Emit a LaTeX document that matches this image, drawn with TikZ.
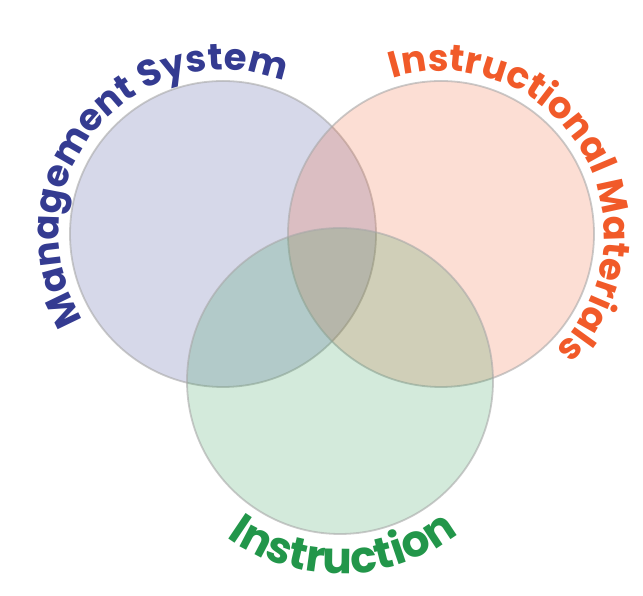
\documentclass[tikz,border=0pt]{standalone}
\usepackage{fontspec}
\setmainfont{Poppins}
\usetikzlibrary{decorations.text}
\definecolor{mgmtblue}{HTML}{343B91}
\definecolor{matorange}{HTML}{F15A29}
\definecolor{instgreen}{HTML}{22964A}
\definecolor{rimgray}{HTML}{A8A8A8}
\newcommand{\vennfont}{\fontsize{37}{37}\selectfont\bfseries}
\newcommand{\vennbigfont}{\fontsize{44}{44}\selectfont\bfseries}
\tikzset{
  venncircle/.style={circle, draw=rimgray, line width=1.8pt, draw opacity=0.6, fill opacity=0.2, minimum size=306pt, inner sep=0pt},
  arclabel/.style={decorate, decoration={text along path, text align=center, text={#1}}}
}

\begin{document}
\begin{tikzpicture}[x=1pt, y=1pt]
  \useasboundingbox (0,0) rectangle (643,596);
  % the three sets
  \node[venncircle, fill=mgmtblue] (mgmt) at (223,362) {};
  \node[venncircle, fill=matorange] (materials) at (441,362) {};
  \node[venncircle, fill=instgreen] (instr) at (340,215) {};

  % curved titles
  \path[arclabel={|\vennfont\color{mgmtblue}|Management System}]
    (mgmt.center) ++(240:164) arc[start angle=240, end angle=40, radius=164];
  \path[arclabel={|\vennfont\color{matorange}|Instructional Materials}]
    (materials.center) ++(131:163) arc[start angle=131, end angle=-69, radius=163];
  \path[arclabel={|\vennbigfont\color{instgreen}|Instruction}]
    (instr.center) ++(171:193) arc[start angle=171, end angle=371, radius=193];
\end{tikzpicture}
\end{document}
